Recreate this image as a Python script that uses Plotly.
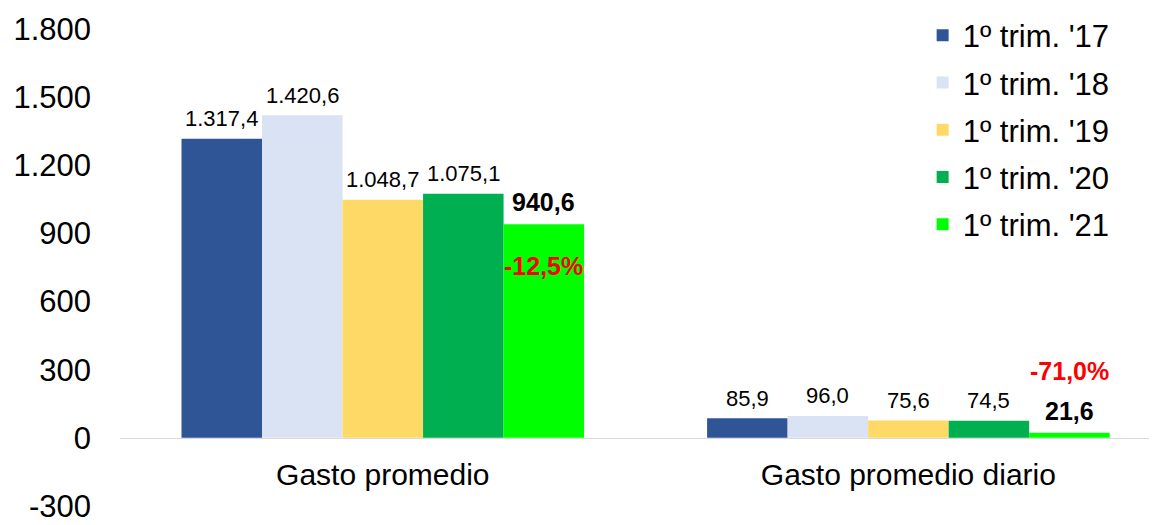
import plotly.graph_objects as go

categories = ["Gasto promedio", "Gasto promedio diario"]
series_names = ["1º trim. '17", "1º trim. '18", "1º trim. '19", "1º trim. '20", "1º trim. '21"]
values_17 = [1317.4, 85.9]
values_18 = [1420.6, 96.0]
values_19 = [1048.7, 75.6]
values_20 = [1075.1, 74.5]
values_21 = [940.6, 21.6]
changes_21 = ["-12,5%", "-71,0%"]
colors = ["#2F5597", "#DAE3F3", "#FFD966", "#00B050", "#00FF00"]
y_ticks = [-300, 0, 300, 600, 900, 1200, 1500, 1800]
y_tick_text = ["-300", "0", "300", "600", "900", "1.200", "1.500", "1.800"]

all_values = [values_17, values_18, values_19, values_20, values_21]
FONT = "Liberation Sans, Arial, sans-serif"

def fmt(v):
    s = f"{v:,.1f}"
    return s.replace(",", "X").replace(".", ",").replace("X", ".")

fig = go.Figure()
for i, (name, vals, col) in enumerate(zip(series_names, all_values, colors)):
    fig.add_trace(go.Bar(
        x=categories, y=vals, name=name, marker_color=col,
        marker_line_width=0, legendgroup=name,
    ))

group_w = 0.766
bar_w = group_w / 5
n = len(series_names)
for i, vals in enumerate(all_values):
    last = i == n - 1
    for c, v in enumerate(vals):
        fig.add_annotation(
            x=c + (i - (n - 1) / 2) * bar_w, y=v,
            text=f"<b>{fmt(v)}</b>" if last else fmt(v),
            showarrow=False, yanchor="middle", yshift=22 if last else 20,
            font=dict(size=25 if last else 22, color="black", family=FONT),
        )

off = (n - 1) / 2 * bar_w
# red change labels
fig.add_annotation(x=0 + off, y=values_21[0], text=f"<b>{changes_21[0]}</b>",
                   showarrow=False, yanchor="top", yshift=-26,
                   font=dict(size=25, color="#FF0000", family=FONT))
fig.add_annotation(x=1 + off, y=values_21[1], text=f"<b>{changes_21[1]}</b>",
                   showarrow=False, yanchor="bottom", yshift=46,
                   font=dict(size=25, color="#FF0000", family=FONT))

fig.update_layout(
    width=1157, height=525,
    margin=dict(l=112, r=8, t=21, b=27, autoexpand=False),
    paper_bgcolor="white", plot_bgcolor="white",
    barmode="group", bargap=1 - group_w, bargroupgap=0,
    font=dict(family=FONT, color="black"),
    showlegend=True,
    legend=dict(x=0.774, y=1.043, xanchor="left", yanchor="top",
                font=dict(size=31, family=FONT), tracegroupgap=4,
                bgcolor="rgba(0,0,0,0)"),
    xaxis=dict(anchor="free", position=300 / 2100, range=[-0.5, 1.473],
               showline=True, linecolor="#D9D9D9", linewidth=1,
               ticks="", showgrid=False, automargin=False,
               ticklabelstandoff=10,
               tickfont=dict(size=30, family=FONT, color="black")),
    yaxis=dict(range=[-300.5, 1800.5], tickvals=y_ticks, ticktext=y_tick_text,
               showgrid=False, zeroline=False, showline=False,
               ticks="", ticklabelstandoff=28, automargin=False,
               tickfont=dict(size=31, family=FONT, color="black")),
)

fig.write_html("out.html")
